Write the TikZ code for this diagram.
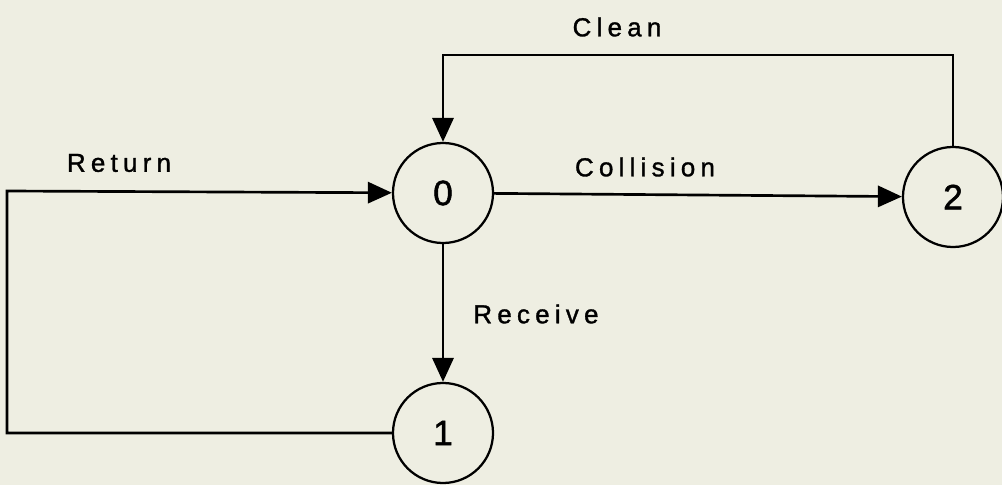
\documentclass[tikz,border=0pt]{standalone}
\usepackage{fontspec}
\setmainfont{Liberation Sans}
\newfontfamily\lblfont{Liberation Sans}[LetterSpace=20, FakeBold=1.2]
\newfontfamily\numfont{Liberation Sans}[FakeBold=1.5]
\usepackage{tikz}
\usetikzlibrary{arrows.meta}
\definecolor{paper}{RGB}{238,238,226}

\begin{document}
\begin{tikzpicture}[x=0.025cm, y=-0.025cm, line width=1.9pt,
  statenode/.style={circle, draw=black, line width=1.6pt, minimum size=2.5cm, inner sep=0pt, font=\numfont\fontsize{25}{27}\selectfont},
  edgelabel/.style={font=\lblfont\fontsize{18.5}{20}\selectfont, inner sep=0pt},
  >={Triangle[length=0.6cm, width=0.53cm]}]
\fill[paper] (0,0) rectangle (1002,485);
\useasboundingbox (0,0) rectangle (1002,485);
\node[statenode] at (443,193) (0) {0};
\node[statenode] at (953,197) (2) {2};
\node[statenode] at (443,433) (1) {1};
\coordinate (cleanL) at (443,55);
\coordinate (cleanR) at (953,55);
\coordinate (retB) at (7,433);
\coordinate (retT) at (7,191);
\draw[->] (0) -- (2);
\draw[->] (0) -- (1);
\draw[->] (2) -- (cleanR) -- (cleanL) -- (0);
\draw[->] (1) -- (retB) -- (retT) -- (0);
\node[edgelabel] at (617,27) (clean) {Clean};
\node[edgelabel] at (645,167) (collision) {Collision};
\node[edgelabel] at (119,163) (return) {Return};
\node[edgelabel, anchor=west] at (472,314) (receive) {Receive};
\end{tikzpicture}
\end{document}
